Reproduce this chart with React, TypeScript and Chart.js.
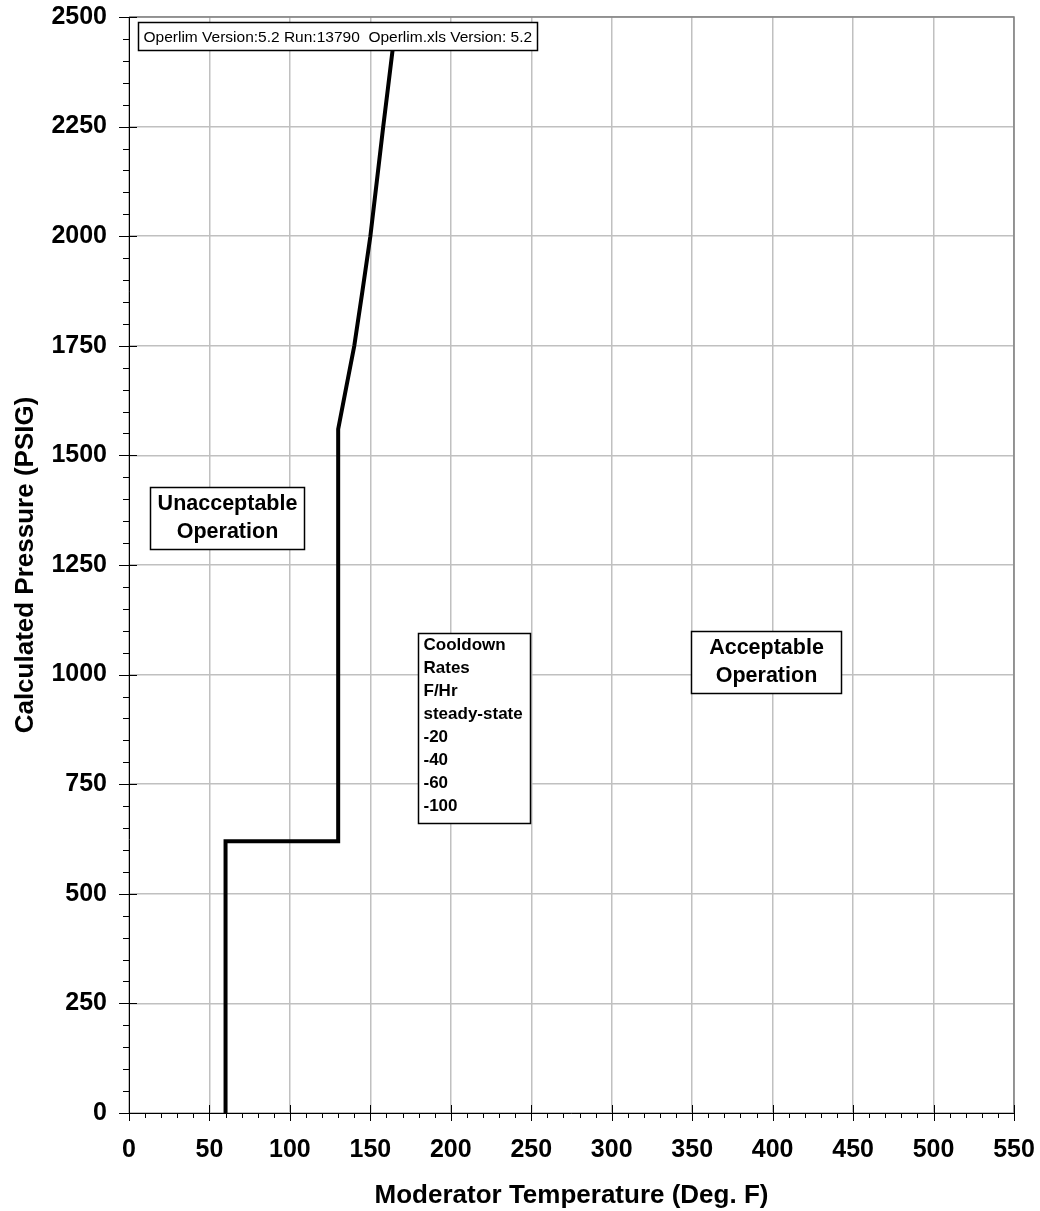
import React, { useEffect, useRef } from "react";
import { Chart, registerables } from "chart.js";

Chart.register(...registerables);

// Limit curve (Moderator Temperature, Deg. F  vs  Calculated Pressure, PSIG)
const limitTemps = [60, 60, 130, 130, 135, 140, 145, 150, 154, 158, 161, 164.5];
const limitPressures = [0, 620, 620, 1560, 1655, 1750, 1873, 2000, 2125, 2250, 2340, 2445];

const xTickValues = [0, 50, 100, 150, 200, 250, 300, 350, 400, 450, 500, 550];
const yTickValues = [0, 250, 500, 750, 1000, 1250, 1500, 1750, 2000, 2250, 2500];

const xTitle = "Moderator Temperature (Deg. F)";
const yTitle = "Calculated Pressure (PSIG)";

const versionText = "Operlim Version:5.2 Run:13790  Operlim.xls Version: 5.2";
const unacceptableLines = ["Unacceptable", "Operation"];
const acceptableLines = ["Acceptable", "Operation"];
const cooldownLines = ["Cooldown", "Rates", "F/Hr", "steady-state", "-20", "-40", "-60", "-100"];

// annotation box corners in data units: [left x, top y, right x, bottom y]
const versionBox = [5.6, 2488, 253.4, 2425];
const unacceptableBox = [13.0, 1428, 108.7, 1286.5];
const cooldownBox = [179.5, 1095, 249.1, 661.5];
const acceptableBox = [349.1, 1099.5, 442.2, 958];

const FONT = "'Liberation Sans', Arial, Helvetica, sans-serif";

export default function App() {
  const ref = useRef<HTMLCanvasElement | null>(null);

  useEffect(() => {
    const canvas = ref.current;
    if (!canvas) return;

    const overlay = {
      id: "overlay",
      afterDraw(chart: any) {
        const ctx = chart.ctx as CanvasRenderingContext2D;
        const xs = chart.scales.x;
        const ys = chart.scales.y;
        const { left, right, top, bottom } = chart.chartArea;
        ctx.save();

        // top & right frame
        ctx.strokeStyle = "#808080";
        ctx.lineWidth = 1.5;
        ctx.beginPath();
        ctx.moveTo(left, top);
        ctx.lineTo(right, top);
        ctx.lineTo(right, bottom);
        ctx.stroke();

        // tick marks
        ctx.strokeStyle = "#000";
        ctx.lineWidth = 1;
        ctx.beginPath();
        for (let v = 0; v <= 2500; v += 50) {
          const py = Math.round(ys.getPixelForValue(v)) + 0.5;
          if (v % 250 === 0) {
            ctx.moveTo(left - 10, py);
            ctx.lineTo(left + 8, py);
          } else {
            ctx.moveTo(left - 6, py);
            ctx.lineTo(left, py);
          }
        }
        for (let v = 0; v <= 550; v += 10) {
          const px = Math.round(xs.getPixelForValue(v)) + 0.5;
          if (v % 50 === 0) {
            ctx.moveTo(px, bottom - 8);
            ctx.lineTo(px, bottom + 8);
          } else {
            ctx.moveTo(px, bottom);
            ctx.lineTo(px, bottom + 5);
          }
        }
        ctx.stroke();

        const boxRect = (b: number[]) => {
          const x1 = Math.round(xs.getPixelForValue(b[0])) + 0.5;
          const y1 = Math.round(ys.getPixelForValue(b[1])) + 0.5;
          const x2 = Math.round(xs.getPixelForValue(b[2])) + 0.5;
          const y2 = Math.round(ys.getPixelForValue(b[3])) + 0.5;
          ctx.fillStyle = "#fff";
          ctx.fillRect(x1, y1, x2 - x1, y2 - y1);
          ctx.strokeStyle = "#000";
          ctx.lineWidth = 1.5;
          ctx.strokeRect(x1, y1, x2 - x1, y2 - y1);
          return { x1, y1, x2, y2 };
        };

        // version box
        {
          const r = boxRect(versionBox);
          ctx.fillStyle = "#000";
          ctx.font = `15.5px ${FONT}`;
          ctx.textAlign = "left";
          ctx.textBaseline = "middle";
          ctx.fillText(versionText, r.x1 + 5, (r.y1 + r.y2) / 2 + 1);
        }

        const centered = (b: number[], lines: string[]) => {
          const r = boxRect(b);
          ctx.fillStyle = "#000";
          ctx.font = `bold 21.5px ${FONT}`;
          ctx.textAlign = "center";
          ctx.textBaseline = "middle";
          const cx = (r.x1 + r.x2) / 2;
          const cy = (r.y1 + r.y2) / 2;
          const lh = 28;
          lines.forEach((t, i) => {
            ctx.fillText(t, cx, cy + (i - (lines.length - 1) / 2) * lh);
          });
        };
        centered(unacceptableBox, unacceptableLines);
        centered(acceptableBox, acceptableLines);

        {
          const r = boxRect(cooldownBox);
          ctx.fillStyle = "#000";
          ctx.font = `bold 17px ${FONT}`;
          ctx.textAlign = "left";
          ctx.textBaseline = "middle";
          cooldownLines.forEach((t, i) => {
            ctx.fillText(t, r.x1 + 5, r.y1 + 12 + i * 23);
          });
        }

        ctx.restore();
      },
    };

    const tickFont = { family: FONT, size: 25, weight: "bold" as const };
    const titleFont = { family: FONT, size: 26, weight: "bold" as const };

    const zeroPad = (s: any) => {
      s.paddingTop = 0;
      s.paddingBottom = 0;
      s.paddingLeft = 0;
      s.paddingRight = 0;
    };

    const chart = new Chart(canvas, {
      type: "line",
      data: {
        datasets: [
          {
            data: limitTemps.map((x, i) => ({ x, y: limitPressures[i] })),
            borderColor: "#000",
            borderWidth: 4,
            pointRadius: 0,
            tension: 0,
            fill: false,
            borderJoinStyle: "miter",
            borderCapStyle: "butt",
          } as any,
        ],
      },
      options: {
        responsive: false,
        animation: false,
        events: [],
        layout: { padding: { left: 0, top: 17, right: 26, bottom: 0 } },
        plugins: { legend: { display: false }, tooltip: { enabled: false } },
        scales: {
          x: {
            type: "linear",
            min: 0,
            max: 550,
            afterBuildTicks: (s: any) => {
              s.ticks = xTickValues.map((v) => ({ value: v }));
            },
            afterFit: (s: any) => {
              s.height = 98;
              zeroPad(s);
            },
            ticks: {
              color: "#000",
              font: tickFont,
              padding: 22,
              maxRotation: 0,
              autoSkip: false,
              callback: (v: any) => String(v),
            },
            grid: { color: "#c0c0c0", lineWidth: 1.5, drawTicks: false },
            border: { display: true, color: "#000", width: 1 },
            title: {
              display: true,
              text: xTitle,
              color: "#000",
              font: titleFont,
              padding: { top: 0, bottom: 0 },
            },
          },
          y: {
            type: "linear",
            min: 0,
            max: 2500,
            afterBuildTicks: (s: any) => {
              s.ticks = yTickValues.map((v) => ({ value: v }));
            },
            afterFit: (s: any) => {
              s.width = 129;
              zeroPad(s);
            },
            ticks: {
              color: "#000",
              font: tickFont,
              padding: 22,
              autoSkip: false,
              callback: (v: any) => String(v),
            },
            grid: { color: "#c0c0c0", lineWidth: 1.5, drawTicks: false },
            border: { display: true, color: "#000", width: 1 },
            title: {
              display: true,
              text: yTitle,
              color: "#000",
              font: titleFont,
              padding: { top: 10, bottom: 0 },
            },
          },
        },
      } as any,
      plugins: [overlay],
    });

    return () => chart.destroy();
  }, []);

  return (
    <div
      style={{
        position: "absolute",
        left: 0,
        top: 0,
        width: 1040,
        height: 1211,
        background: "#fff",
      }}
    >
      <canvas ref={ref} width={1040} height={1211} style={{ display: "block" }} />
    </div>
  );
}
